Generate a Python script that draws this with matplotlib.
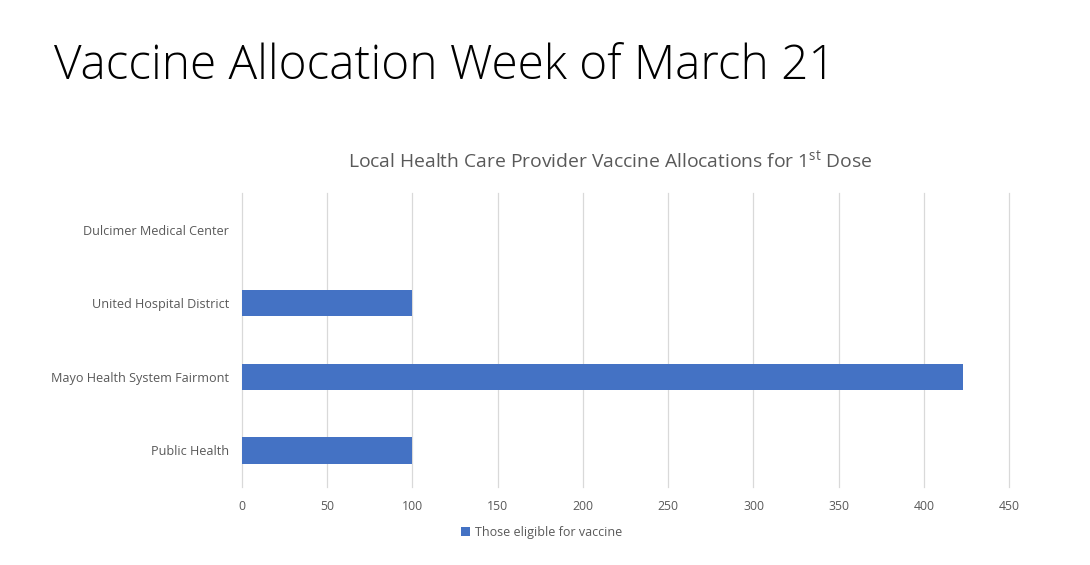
import matplotlib
matplotlib.use("Agg")
import matplotlib.pyplot as plt
from matplotlib.patches import Patch

plt.rcParams['font.family'] = ['Open Sans', 'DejaVu Sans']
plt.rcParams['mathtext.fontset'] = 'custom'
plt.rcParams['mathtext.rm'] = 'Open Sans'

providers = ["Public Health", "Mayo Health System Fairmont",
             "United Hospital District", "Dulcimer Medical Center"]
allocations = [100, 423, 100, 0]
series_name = "Those eligible for vaccine"
x_ticks = [0, 50, 100, 150, 200, 250, 300, 350, 400, 450]

bar_color = '#4472C4'
text_grey = '#595959'
grid_grey = '#D9D9D9'

fig = plt.figure(figsize=(10.9, 5.65), dpi=100)
ax = fig.add_axes([0.2216, 0.138, 0.7045, 0.5204])

ax.barh(range(len(providers)), allocations, height=0.36, color=bar_color, zorder=3)
ax.set_xlim(0, 450)
ax.set_ylim(-0.5, len(providers) - 0.5)
ax.set_xticks(x_ticks)
ax.set_yticks(range(len(providers)))
ax.set_yticklabels(providers)
ax.tick_params(axis='x', length=0, labelsize=8.8, labelcolor=text_grey, pad=9)
ax.tick_params(axis='y', length=0, labelsize=9.1, labelcolor=text_grey, pad=9)
ax.grid(axis='x', color=grid_grey, linewidth=0.9, zorder=0)
for gl in ax.xaxis.get_gridlines():
    gl.set_clip_on(False)
for s in ax.spines.values():
    s.set_visible(False)

fig.text(0.05, 0.882, "Vaccine Allocation Week of March 21", fontsize=34.4,
         fontweight='light', color='black', ha='left', va='center')
fig.text(0.56, 0.715, r"Local Health Care Provider Vaccine Allocations for 1$^{\mathrm{st}}$ Dose",
         fontsize=13.9, color=text_grey, ha='center', va='center')

handles = [Patch(facecolor=bar_color, label=series_name)]
fig.legend(handles=handles, loc='center', bbox_to_anchor=(0.497, 0.058), frameon=False,
           fontsize=9, labelcolor=text_grey, handlelength=0.7, handleheight=0.7,
           handletextpad=0.4)

plt.savefig("out.png", dpi=100)
plt.close()
